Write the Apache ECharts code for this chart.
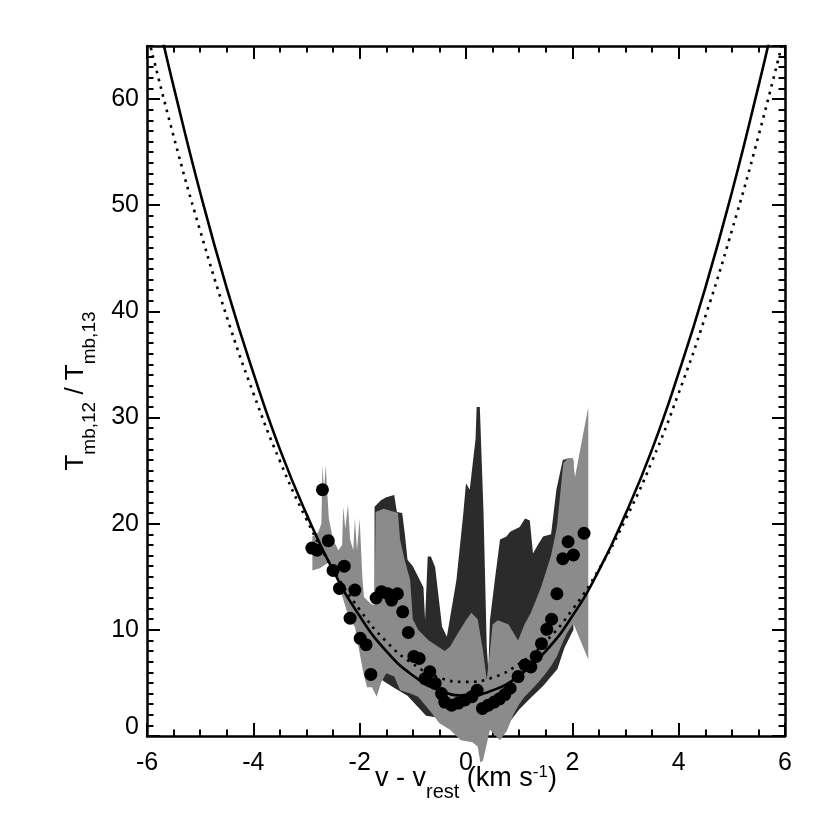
<!DOCTYPE html>
<html>
<head>
<meta charset="utf-8">
<script src="https://cdn.jsdelivr.net/npm/echarts@6/dist/echarts.min.js"></script>
<style>
html,body{margin:0;padding:0;background:#fff;}
#chart{width:830px;height:830px;}
</style>
</head>
<body>
<div id="chart"></div>
<script>
// ---- data ----
const xTicks = [-6, -4, -2, 0, 2, 4, 6];
const yTicks = [0, 10, 20, 30, 40, 50, 60];

// measured ratio points [v - v_rest, T12/T13]
const ratioPoints = [
  [-2.90,17.7],[-2.80,17.5],[-2.70,23.2],[-2.59,18.4],[-2.50,15.6],[-2.29,16.0],[-2.38,13.9],
  [-2.09,13.75],[-2.18,11.1],[-1.99,9.2],[-1.88,8.6],[-1.79,5.8],[-1.69,13.0],[-1.59,13.6],
  [-1.47,13.4],[-1.40,12.8],[-1.29,13.4],[-1.19,11.7],[-1.085,9.75],[-0.98,7.5],[-0.88,7.3],
  [-0.77,5.4],[-0.68,6.05],[-0.58,4.95],[-0.46,4.0],[-0.40,3.2],[-0.27,2.9],[-0.145,3.1],
  [-0.02,3.4],[0.11,3.7],[0.21,4.3],[0.31,2.6],[0.42,2.9],[0.53,3.2],[0.63,3.5],[0.73,3.9],
  [0.83,4.5],[0.98,5.6],[1.11,6.7],[1.22,6.5],[1.32,7.5],[1.42,8.7],[1.52,10.05],[1.61,11.0],
  [1.71,13.4],[1.82,16.7],[2.02,17.05],[1.92,18.3],[2.22,19.1]
];

// model curves
const solidCurve = [
  [-5.75,66.5],[-5.5,61.2],[-5,51.2],[-4.5,42.2],[-4,34.2],[-3.5,27.0],[-3,20.9],[-2.5,15.6],
  [-2,11.3],[-1.5,8.0],[-1,5.7],[-0.5,4.3],[0,3.8],[0.5,4.3],[1,5.7],[1.5,8.0],[2,11.3],
  [2.5,15.6],[3,20.9],[3.5,27.0],[4,34.2],[4.5,42.2],[5,51.2],[5.5,61.2],[5.75,66.5]
];
const dottedCurve = [
  [-6,66.3],[-5.5,56.5],[-5,47.6],[-4.5,39.5],[-4,32.3],[-3.5,25.9],[-3,20.4],[-2.5,15.7],
  [-2,11.9],[-1.5,8.9],[-1,6.8],[-0.5,5.5],[0,5.1],[0.5,5.5],[1,6.8],[1.5,8.9],[2,11.9],
  [2.5,15.7],[3,20.4],[3.5,25.9],[4,32.3],[4.5,39.5],[5,47.6],[5.5,56.5],[6,66.3]
];

// uncertainty range outlines (upper edge left->right, then lower edge right->left)
const grayUpper = [
  [-2.89,15.6],[-2.89,18.8],[-2.78,19.2],[-2.72,20],[-2.70,25.5],[-2.67,23],[-2.64,25.5],
  [-2.58,20.5],[-2.50,18.5],[-2.40,17.5],[-2.33,18],[-2.31,21.6],[-2.27,19.5],[-2.22,21.8],
  [-2.18,18.5],[-2.12,17.5],[-2.09,20.5],[-2.05,17.5],[-2.00,20.5],[-1.95,15],[-1.92,13.1],
  [-1.80,12.5],[-1.72,12.3],[-1.70,21.1],[-1.55,21.4],[-1.40,21.2],[-1.28,21.0],[-1.24,18.5],
  [-1.15,16.5],[-1.05,14.7],[-1.0,11],[-0.9,10],[-0.8,9.5],[-0.7,9],[-0.55,8.5],[-0.4,8],
  [-0.3,8.4],[-0.15,9.7],[0.0,10.9],[0.1,11.6],[0.22,11],[0.32,8],[0.39,5.3],[0.45,8],
  [0.5,10.5],[0.6,10.9],[0.8,10.5],[0.98,9],[1.1,10.5],[1.22,11.6],[1.41,14],[1.6,17],
  [1.71,19.7],[1.83,25.7],[1.92,26.2],[2.01,26.2],[2.05,24.4],[2.30,31],[2.30,7.2]
];
const grayLower = [
  [2.02,10.6],[1.9,9.7],[1.8,8.6],[1.71,7.5],[1.6,6.6],[1.5,5.9],[1.35,5.0],[1.2,4.2],
  [1.1,3.7],[1.0,3.0],[0.9,2.1],[0.77,0.5],[0.64,-0.4],[0.5,0.3],[0.45,0.6],[0.32,-2.3],
  [0.27,-2.5],[0.22,-1.0],[0.12,-0.6],[-0.1,-0.4],[-0.3,0.6],[-0.5,1.2],[-0.65,2.2],
  [-0.75,2.8],[-0.9,3.7],[-1.05,4.0],[-1.24,4.3],[-1.35,5.6],[-1.5,5.9],[-1.6,5.0],
  [-1.68,3.7],[-1.77,4.6],[-1.86,4.6],[-1.93,5.9],[-2.0,7.8],[-2.09,10.3],[-2.18,10.9],
  [-2.25,11.9],[-2.38,14.05],[-2.46,15.9],[-2.6,16.3],[-2.75,15.8]
];
const darkUpper = [
  [-1.72,6],[-1.72,21.6],[-1.6,22.2],[-1.5,22.5],[-1.35,22.7],[-1.3,21.1],[-1.2,21],
  [-1.15,19],[-1.1,16.6],[-1.0,16],[-0.9,15],[-0.8,14],[-0.77,10.9],[-0.72,16.9],
  [-0.66,16.9],[-0.58,15.9],[-0.45,10.3],[-0.36,9.35],[-0.18,14.7],[-0.05,21],[0.0,23.8],
  [0.07,23.2],[0.18,28],[0.2,31],[0.26,31],[0.33,21],[0.39,8.4],[0.42,6.2],[0.45,10.9],
  [0.55,15],[0.64,18.5],[0.76,18.8],[0.83,19.25],[1.01,19.7],[1.11,20.5],[1.2,20.3],
  [1.26,17.2],[1.35,18],[1.45,18.8],[1.6,19],[1.70,23.2],[1.82,26],[1.95,26.2],[2.02,26],
  [2.02,10]
];
const darkLower = [
  [1.85,8.3],[1.72,6.3],[1.6,5.6],[1.45,4.7],[1.2,3.5],[1.0,2.5],[0.85,1.5],[0.5,0.8],
  [0.2,0.5],[0.0,1.0],[-0.3,1.5],[-0.6,1.8],[-0.75,1.9],[-0.9,2.7],[-1.1,3.8],[-1.37,4.6],
  [-1.56,5.2]
];

// ---- chart ----
const FONT = "'Liberation Sans', Arial, Helvetica, sans-serif";
const chart = echarts.init(document.getElementById('chart'), null, {renderer: 'canvas'});

const grayPoly = grayUpper.concat(grayLower);
const darkPoly = darkUpper.concat(darkLower);

function polySeries(poly, color, z) {
  return {
    type: 'custom',
    xAxisIndex: 0, yAxisIndex: 0,
    clip: false, silent: true, z: z,
    data: [[0, 0]],
    renderItem: function (params, api) {
      const pts = poly.map(function (p) { return api.coord(p); });
      return {type: 'polygon', shape: {points: pts}, style: {fill: color, stroke: null}};
    }
  };
}

const axisLineStyle = {color: '#000', width: 2.5};
const labelStyle = {color: '#000', fontSize: 25, fontFamily: FONT};
// rich styles: main text, subscript, superscript
function makeRich(fa, fs, fp, L, pa, pp) {
  return {
    a: {fontSize: fa, lineHeight: L, padding: [pa, 0, 0, 0], verticalAlign: 'top', fontFamily: FONT, color: '#000'},
    s: {fontSize: fs, lineHeight: L, verticalAlign: 'bottom', fontFamily: FONT, color: '#000'},
    p: {fontSize: fp, lineHeight: L, padding: [pp, 0, 0, 0], verticalAlign: 'top', fontFamily: FONT, color: '#000'}
  };
}

function sideAxis(pos, min, max, interval, len) {
  return {
    type: 'value', position: pos, min: min, max: max, interval: interval,
    axisLine: {show: len > 10, onZero: false, lineStyle: axisLineStyle},
    axisTick: {show: true, inside: true, length: len, lineStyle: {color: '#000', width: 2}},
    splitLine: {show: false}, axisLabel: {show: false}
  };
}

const option = {
  animation: false,
  backgroundColor: '#fff',
  grid: {left: 147, right: 45, top: 46, bottom: 94, containLabel: false},
  xAxis: [
    {
      type: 'value', position: 'bottom', min: -6, max: 6, interval: 2,
      axisLine: {show: true, onZero: false, lineStyle: axisLineStyle},
      axisTick: {show: true, inside: true, length: 13, lineStyle: {color: '#000', width: 2}},
      minorTick: {show: true, splitNumber: 4, length: 6.5, lineStyle: {color: '#000', width: 2}},
      splitLine: {show: false}, minorSplitLine: {show: false},
      axisLabel: Object.assign({margin: 15}, labelStyle),
      name: '{a|v - v}{s|rest}{a| (km s}{p|-1}{a|)}',
      nameLocation: 'middle', nameGap: 25, nameMoveOverlap: false,
      nameTextStyle: {color: '#000', fontFamily: FONT, rich: makeRich(27, 20, 17, 41, 4, 2.5)}
    },
    {
      type: 'value', position: 'top', min: -6, max: 6, interval: 2,
      axisLine: {show: true, onZero: false, lineStyle: axisLineStyle},
      axisTick: {show: true, inside: true, length: 13, lineStyle: {color: '#000', width: 2}},
      minorTick: {show: true, splitNumber: 4, length: 6.5, lineStyle: {color: '#000', width: 2}},
      splitLine: {show: false}, axisLabel: {show: false}
    }
  ],
  yAxis: [
    {
      type: 'value', position: 'left', min: 0, max: 65, interval: 10,
      axisLine: {show: true, onZero: false, lineStyle: axisLineStyle},
      axisTick: {show: true, inside: true, length: 13, lineStyle: {color: '#000', width: 2}},
      splitLine: {show: false},
      axisLabel: Object.assign({
        margin: 8, showMaxLabel: false,
        formatter: function (v) { return v === 0 ? '{z|0}' : (yTicks.indexOf(v) >= 0 ? String(v) : ''); },
        rich: {z: {fontSize: 25, fontFamily: FONT, color: '#000', padding: [0, 0, 18, 0]}}
      }, labelStyle),
      name: '{a|T}{s|mb,12}{a| / T}{s|mb,13}',
      nameLocation: 'middle', nameGap: 48, nameMoveOverlap: false,
      nameTextStyle: {color: '#000', fontFamily: FONT, rich: makeRich(26, 19, 17, 40, 4, 2)}
    },
    sideAxis('left', 0, 65, 1, 6.5),
    sideAxis('right', 0, 65, 10, 13),
    sideAxis('right', 0, 65, 1, 6.5)
  ],
  series: [
    polySeries(darkPoly, '#2b2b2b', 1),
    polySeries(grayPoly, '#8b8b8b', 2),
    {
      type: 'line', data: dottedCurve, smooth: true, symbol: 'none', z: 3,
      lineStyle: {color: '#000', width: 2.6, type: [2.6, 5.4], cap: 'butt'}
    },
    {
      type: 'line', data: solidCurve, smooth: true, symbol: 'none', z: 4,
      lineStyle: {color: '#000', width: 2.6}
    },
    {
      type: 'scatter', data: ratioPoints, symbol: 'circle', symbolSize: 13, z: 5,
      itemStyle: {color: '#000', opacity: 1}
    }
  ]
};
chart.setOption(option);
</script>
</body>
</html>
